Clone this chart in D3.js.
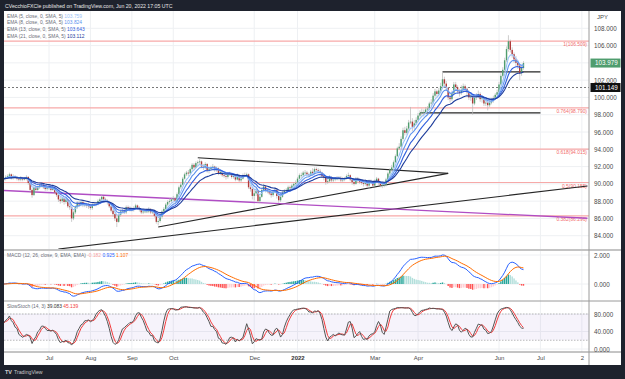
<!DOCTYPE html>
<html><head><meta charset="utf-8">
<script src="https://cdn.jsdelivr.net/npm/d3@7"></script>
<style>
html,body{margin:0;padding:0;background:#1e222d;}
svg{display:block;font-family:"Liberation Sans",Arial,sans-serif;}
</style></head><body>
<svg id="c" width="625" height="379"></svg>
<script>
// ---------------- DATA ----------------
const startDate = "2021-05-28";
const firstOpen = 90.5;
const closes = [90.6,
90.8,90.9,91.1,90.7,90.9, 90.8,90.6,90.5,90.7,90.5, 90.6,90.8,90.1,89.3,88.7, 89.6,89.3,89.6,89.8,89.9,
89.6,89.4,89.5,89.6,89.3, 89.6,89.0,88.7,88.2,88.0, 88.3,87.9,88.2,87.4,87.3, 86.0,86.7,87.3,87.8,87.6,
87.9,87.6,87.6,87.5,87.4, 87.2,87.6,87.6,87.7,88.0, 88.2,88.5,88.2,88.1,87.9, 87.4,86.9,86.5,86.0,85.6,
86.4,86.8,86.9,86.7,87.3, 87.2,87.0,87.0,87.2,87.5, 87.2,87.0,86.7,86.8,86.8, 86.8,87.1,86.7,86.8,86.3,
85.6,85.7,86.2,86.8,87.1, 87.6,87.9,88.0,88.2,88.3, 88.0,88.8,89.6,89.9,90.6, 91.1,91.3,91.2,91.7,92.2,
91.9,92.4,92.5,92.6,92.0, 91.9,92.3,91.5,91.7,91.9, 92.0,91.6,91.8,91.2,91.4, 91.0,90.9,90.8,91.1,91.2,
90.8,90.9,90.5,91.0,90.4, 90.6,91.0,91.0,91.1,89.6, 89.4,88.6,88.9,89.2,88.0, 88.5,89.3,89.7,89.2,89.1,
88.9,88.7,89.1,89.3,88.6, 88.1,88.5,89.0,89.2,89.3, 89.6,89.5,89.8,90.0,90.1, 90.6,91.0,91.0,91.3,91.3,
91.1,91.0,91.4,91.2,91.7, 91.6,91.5,91.3,90.9,90.7, 90.2,90.3,90.8,90.4,90.5, 90.6,90.6,90.7,90.4,90.5,
90.6,90.9,91.0,90.5,90.2, 90.0,90.6,90.4,90.2,90.1, 90.0,90.2,89.8,90.2,90.2, 89.8,90.3,90.6,90.1,89.8,
89.9,89.9,90.5,91.2,91.6, 91.9,92.5,93.2,94.1,94.3, 95.2,96.2,95.9,96.4,97.1, 97.2,96.6,97.0,97.4,97.9,
98.2,98.3,98.3,98.6,98.7, 99.3,99.4,100.2,100.7,100.4, 100.8,101.3,102.1,101.6,101.1, 100.0,99.8,100.5,101.5,101.2,
100.7,100.5,100.9,101.3,101.0, 100.6,100.0,100.1,99.3,100.0, 100.1,100.4,99.8,99.9,99.3, 99.4,99.1,99.4,99.6,99.9,
100.3,100.6,101.5,102.5,103.2, 104.3,105.6,106.5,105.5,105.0, 104.4,104.0,103.7,102.8,103.4,
103.979];
const highs = [90.8,
91.0,91.1,91.3,91.2,91.1, 91.0,90.9,90.8,90.9,90.8, 90.8,91.0,90.9,90.2,89.5, 89.7,89.8,89.8,90.0,90.1,
90.0,89.8,89.7,89.9,89.7, 89.8,89.7,89.2,88.9,88.5, 88.5,88.4,88.4,88.3,87.7, 87.4,86.9,87.5,88.0,88.0,
88.1,88.0,87.9,87.8,87.8, 87.6,87.8,87.9,87.9,88.2, 88.4,88.7,88.6,88.4,88.2, 88.0,87.5,87.1,86.7,86.2,
86.6,87.0,87.1,87.1,87.5, 87.5,87.4,87.3,87.4,87.7, 87.6,87.4,87.1,87.0,87.0, 87.1,87.3,87.2,87.0,86.9,
86.4,85.9,86.4,87.0,87.3, 87.8,88.1,88.3,88.4,88.6, 88.5,89.0,89.8,90.1,90.8, 91.3,91.5,91.6,91.9,92.4,
92.4,92.6,92.7,92.9,92.7, 92.3,92.5,92.4,91.9,92.1, 92.3,92.1,92.0,91.9,91.6, 91.5,91.2,91.1,91.3,91.4,
91.3,91.1,91.0,91.2,91.1, 90.8,91.2,91.3,91.3,91.2, 89.9,89.6,89.4,89.5,89.3, 88.7,89.5,90.0,89.8,89.4,
89.3,89.1,89.3,89.5,89.4, 88.7,88.7,89.2,89.4,89.5, 89.8,89.8,90.0,90.2,90.4, 90.8,91.2,91.3,91.5,91.6,
91.5,91.3,91.6,91.8,91.9, 91.9,91.8,91.7,91.4,91.1, 90.8,90.6,91.0,90.9,90.7, 90.8,90.9,90.9,90.9,90.8,
90.8,91.1,91.3,91.1,90.6, 90.4,90.8,90.8,90.6,90.4, 90.3,90.5,90.4,90.5,90.5, 90.3,90.5,90.8,90.7,90.3,
90.2,90.2,90.7,91.4,91.8, 92.2,92.7,93.4,94.3,94.7, 95.5,96.5,96.6,96.7,97.4, 98.9,97.6,97.4,97.7,98.2,
98.5,98.7,98.6,98.9,99.0, 99.5,99.8,100.5,101.0,100.9, 101.1,101.7,102.9,102.4,101.9, 101.2,100.4,100.8,101.8,101.8,
101.4,101.0,101.4,101.6,101.5, 101.2,100.8,100.5,100.2,100.3, 100.5,100.8,100.6,100.2,100.0, 99.7,99.6,99.7,99.9,100.2,
100.5,100.9,101.8,102.8,103.5, 104.6,105.9,107.2,106.7,105.8, 105.2,104.8,104.3,103.9,103.7,
104.2];
const lows = [90.3,
90.4,90.6,90.7,90.5,90.5, 90.6,90.4,90.3,90.3,90.3, 90.4,90.4,89.9,89.0,88.4, 88.6,89.1,89.2,89.4,89.6,
89.4,89.2,89.2,89.3,89.1, 89.2,88.8,88.5,87.9,87.7, 87.8,87.6,87.7,87.2,87.0, 85.6,85.8,86.5,87.1,87.3,
87.4,87.3,87.3,87.2,87.1, 87.0,87.0,87.4,87.4,87.5, 87.9,88.0,88.0,87.9,87.6, 87.2,86.7,86.2,85.7,85.0,
85.5,86.2,86.6,86.5,86.5, 87.0,86.8,86.8,86.8,87.0, 87.0,86.8,86.5,86.5,86.6, 86.6,86.6,86.5,86.5,86.1,
85.4,85.2,85.5,86.0,86.6, 86.9,87.4,87.7,87.8,88.0, 87.8,87.9,88.7,89.4,89.8, 90.5,90.9,90.9,91.1,91.5,
91.6,91.8,92.1,92.2,91.8, 91.6,91.7,91.3,91.2,91.5, 91.7,91.4,91.4,91.0,91.0, 90.8,90.7,90.5,90.6,90.9,
90.6,90.6,90.3,90.4,90.2, 90.2,90.5,90.8,90.8,89.4, 89.1,88.2,88.1,88.6,87.8, 87.8,88.4,89.2,89.0,88.9,
88.7,88.4,88.5,88.9,88.3, 87.8,87.9,88.4,88.9,89.1, 89.2,89.3,89.4,89.6,89.8, 90.0,90.5,90.7,90.8,91.0,
90.9,90.8,90.9,91.0,91.1, 91.4,91.2,91.0,90.7,90.4, 89.9,90.0,90.2,90.2,90.2, 90.3,90.4,90.4,90.2,90.2,
90.3,90.5,90.8,90.3,89.9, 89.8,89.9,90.2,90.0,89.9, 89.7,89.8,89.5,89.4,90.0, 89.6,89.7,90.1,89.9,89.6,
89.5,89.6,89.7,90.4,91.0, 91.4,91.8,92.4,93.1,93.9, 94.2,95.0,95.6,95.7,96.2, 96.9,96.1,96.3,96.8,97.2,
97.7,97.9,97.8,98.1,98.3, 98.5,99.0,99.2,100.0,100.1, 100.2,100.6,101.1,101.3,100.8, 99.7,99.4,99.6,100.3,100.8,
100.4,100.1,100.3,100.6,100.7, 100.2,99.7,99.6,98.0,99.1, 99.7,99.9,99.5,99.4,99.0, 99.0,98.5,98.9,99.2,99.4,
99.7,100.0,100.4,101.3,102.3, 103.0,104.1,105.3,105.2,104.6, 104.0,103.6,103.3,102.0,102.5,
103.2];

const emaPeriods = [5, 8, 13, 21];
const emaLegendValues = ["103.759", "103.824", "103.643", "103.112"];
const macdLegendValues = ["-0.182", "0.925", "1.107"];
const stochLegendValues = ["39.083", "45.139"];
const lastPrice = 103.979;
const refPrice = 101.149;

const fibRatios = ["1", "0.764", "0.618", "0.5", "0.382"];
const fibPrices = [106.509, 98.790, 94.015, 90.155, 86.296];

const priceTicks = [84, 86, 88, 90, 92, 94, 96, 98, 100, 102, 104, 106, 108];
const macdTicks = [0, 2];
const stochTicks = [0, 40, 80];
const stochBands = [20, 80];
const tickDates = ["2021-07-01","2021-08-02","2021-09-01","2021-10-01","2021-12-01","2022-01-03","2022-03-01","2022-04-01","2022-06-01","2022-07-01","2022-08-02"];
const tickLabels = ["Jul","Aug","Sep","Oct","Dec","2022","Mar","Apr","Jun","Jul","2"];

// drawn trend lines: [date, price] pairs
const trendStart = [["2021-10-20", 93.02], ["2021-09-21", 85.01], ["2021-07-08", 82.46], ["2021-05-28", 89.23], ["2022-04-20", 102.95], ["2022-04-04", 98.22]];
const trendEnd   = [["2022-04-25", 91.22], ["2022-04-25", 91.22], ["2022-08-05", 89.75], ["2022-08-05", 86.02], ["2022-07-01", 102.95], ["2022-07-01", 98.22]];
const trendKind  = ["black", "black", "black", "purple", "black", "black"];

// ---------------- HELPERS ----------------
function wdIndex(ds) {
  const s = new Date(startDate + "T00:00:00Z"), t = new Date(ds + "T00:00:00Z");
  let n = 0; const d = new Date(s);
  while (d < t) { d.setUTCDate(d.getUTCDate() + 1); const w = d.getUTCDay(); if (w !== 0 && w !== 6) n++; }
  return n;
}
function ema(arr, n) { const k = 2 / (n + 1); const out = []; arr.forEach((v, i) => out.push(i === 0 ? v : v * k + out[i - 1] * (1 - k))); return out; }
function sma(arr, n) { return arr.map((v, i) => d3.mean(arr.slice(Math.max(0, i - n + 1), i + 1))); }

const N = closes.length;
const opens = closes.map((c, i) => i === 0 ? firstOpen : closes[i - 1]);
const emas = emaPeriods.map(p => ema(closes, p));
const e12 = ema(closes, 12), e26 = ema(closes, 26);
const macd = e12.map((v, i) => v - e26[i]);
const signal = ema(macd, 9);
const hist = macd.map((v, i) => v - signal[i]);
const rawK = closes.map((c, i) => {
  const lo = d3.min(lows.slice(Math.max(0, i - 13), i + 1)), hi = d3.max(highs.slice(Math.max(0, i - 13), i + 1));
  return hi === lo ? 50 : (c - lo) / (hi - lo) * 100;
});
const kLine = sma(rawK, 3);
const dLine = sma(kLine, 3);

// ---------------- LAYOUT ----------------
const L = 4, R = 589, AX = 621;
const mainTop = 11, mainBot = 249, macdTop = 251, macdBot = 300, stTop = 302, stBot = 351, xAxisY = 352, bottom = 365;

const x = d3.scaleLinear().domain([wdIndex("2021-07-01"), wdIndex("2022-06-01")]).range([49, 499]);
const y = d3.scaleLinear().domain([84, 108]).range([235.7, 28.3]);
const ym = d3.scaleLinear().domain([0, 2]).range([284, 255]);
const ys = d3.scaleLinear().domain([0, 80]).range([349, 314]);

const svg = d3.select("#c");
svg.append("rect").attr("width", 625).attr("height", 379).attr("fill", "#1e222d");
svg.append("rect").attr("x", L).attr("y", mainTop).attr("width", AX - L).attr("height", bottom - mainTop).attr("fill", "#ffffff");

const defs = svg.append("defs");
[["cm", mainTop, mainBot], ["cd", macdTop, macdBot], ["cs", stTop, stBot]].forEach(([id, t, b]) => {
  defs.append("clipPath").attr("id", id).append("rect").attr("x", L).attr("y", t).attr("width", R - L).attr("height", b - t);
});

// title + footer
svg.append("text").attr("x", 5).attr("y", 7.5).attr("fill", "#e6e6e6").attr("font-size", 5.2)
  .text("CVecchioFXCle published on TradingView.com, Jun 20, 2022 17:05 UTC");
svg.append("text").attr("x", 5).attr("y", 374).attr("fill", "#d0d0d0").attr("font-size", 5.5).attr("font-weight", "bold").text("TV");
svg.append("text").attr("x", 14).attr("y", 374).attr("fill", "#c8c8c8").attr("font-size", 5.2).text("TradingView");

// grid
const tickIdx = tickDates.map(wdIndex);
const grid = svg.append("g");
grid.selectAll(".vg").data(tickIdx).join("line").attr("x1", d => x(d)).attr("x2", d => x(d))
  .attr("y1", mainTop).attr("y2", xAxisY).attr("stroke", "#eef0f3").attr("stroke-width", 1);
grid.selectAll(".hg").data(priceTicks).join("line").attr("x1", L).attr("x2", R).attr("y1", d => y(d)).attr("y2", d => y(d))
  .attr("stroke", "#eef0f3");
grid.selectAll(".hm").data(macdTicks).join("line").attr("x1", L).attr("x2", R).attr("y1", d => ym(d)).attr("y2", d => ym(d)).attr("stroke", "#eef0f3");
grid.selectAll(".hs").data(stochTicks).join("line").attr("x1", L).attr("x2", R).attr("y1", d => ys(d)).attr("y2", d => ys(d)).attr("stroke", "#eef0f3");

// ---------- MAIN PANE ----------
const gm = svg.append("g").attr("clip-path", "url(#cm)");
gm.selectAll(".fib").data(fibPrices).join("line").attr("x1", L).attr("x2", R)
  .attr("y1", d => y(d)).attr("y2", d => y(d)).attr("stroke", "#f7a9a8").attr("stroke-width", 1.2);
gm.selectAll(".fibt").data(fibPrices).join("text").attr("x", R - 2).attr("y", d => y(d) + 5)
  .attr("text-anchor", "end").attr("font-size", 4.9).attr("fill", "#f26d6d").text((d, i) => `${fibRatios[i]}(${d.toFixed(3)})`);
gm.append("line").attr("x1", L).attr("x2", R).attr("y1", y(refPrice)).attr("y2", y(refPrice))
  .attr("stroke", "#555").attr("stroke-dasharray", "2,2").attr("stroke-width", 0.8);
trendStart.forEach((s, i) => {
  const e = trendEnd[i];
  gm.append("line").attr("x1", x(wdIndex(s[0]))).attr("y1", y(s[1])).attr("x2", x(wdIndex(e[0]))).attr("y2", y(e[1]))
    .attr("stroke", trendKind[i] === "purple" ? "#b04dc4" : "#262626").attr("stroke-width", trendKind[i] === "purple" ? 1.3 : 1.2);
});
const cg = gm.append("g");
cg.selectAll(".wk").data(d3.range(N)).join("line").attr("x1", i => x(i)).attr("x2", i => x(i))
  .attr("y1", i => y(highs[i])).attr("y2", i => y(lows[i])).attr("stroke", "#b8b8b8").attr("stroke-width", 0.7);
cg.selectAll(".bd").data(d3.range(N)).join("rect").attr("x", i => x(i) - 0.7).attr("width", 1.4)
  .attr("y", i => y(Math.max(opens[i], closes[i])))
  .attr("height", i => Math.max(0.7, Math.abs(y(opens[i]) - y(closes[i]))))
  .attr("fill", i => closes[i] >= opens[i] ? "#4f9d6e" : "#b03a3a");
const emaColors = ["#9cc3f7", "#5d92ee", "#3160dd", "#1d3c9b"];
const lineM = d3.line().x((d, i) => x(i)).y(d => y(d));
emas.forEach((e, k) => gm.append("path").attr("d", lineM(e)).attr("fill", "none").attr("stroke", emaColors[k]).attr("stroke-width", 1.1));

emaPeriods.forEach((p, k) => {
  const tx = svg.append("text").attr("x", 7).attr("y", 17.5 + k * 6.8).attr("font-size", 4.9);
  tx.append("tspan").attr("fill", "#6a6d78").text(`EMA (${p}, close, 0, SMA, 5)  `);
  tx.append("tspan").attr("fill", emaColors[k]).text(emaLegendValues[k]);
});

// ---------- MACD ----------
const gd = svg.append("g").attr("clip-path", "url(#cd)");
gd.selectAll(".h").data(d3.range(N)).join("rect")
  .attr("x", i => x(i) - 0.7).attr("width", 1.4)
  .attr("y", i => Math.min(ym(0), ym(hist[i]))).attr("height", i => Math.abs(ym(hist[i]) - ym(0)))
  .attr("fill", i => {
    const h = hist[i], p = i > 0 ? hist[i - 1] : h;
    return h >= 0 ? (h > p ? "#26a69a" : "#b2dfdb") : (h < p ? "#ff5252" : "#ffcdd2");
  });
const lineD = d3.line().x((d, i) => x(i)).y(d => ym(d));
gd.append("path").attr("d", lineD(macd)).attr("fill", "none").attr("stroke", "#2962ff").attr("stroke-width", 1);
gd.append("path").attr("d", lineD(signal)).attr("fill", "none").attr("stroke", "#ff6d00").attr("stroke-width", 1);
{
  const tx = svg.append("text").attr("x", 7).attr("y", 257).attr("font-size", 4.9);
  tx.append("tspan").attr("fill", "#6a6d78").text("MACD (12, 26, close, 9, EMA, EMA)  ");
  tx.append("tspan").attr("fill", "#f7a1a1").text(macdLegendValues[0] + "  ");
  tx.append("tspan").attr("fill", "#2962ff").text(macdLegendValues[1] + "  ");
  tx.append("tspan").attr("fill", "#ff6d00").text(macdLegendValues[2]);
}

// ---------- STOCH ----------
const gs = svg.append("g").attr("clip-path", "url(#cs)");
gs.append("rect").attr("x", L).attr("width", R - L).attr("y", ys(stochBands[1])).attr("height", ys(stochBands[0]) - ys(stochBands[1]))
  .attr("fill", "#7e57c2").attr("fill-opacity", 0.07);
gs.selectAll(".band").data(stochBands).join("line").attr("x1", L).attr("x2", R).attr("y1", d => ys(d)).attr("y2", d => ys(d))
  .attr("stroke", "#a9a9a9").attr("stroke-dasharray", "1.5,1.5").attr("stroke-width", 0.8);
const lineS = d3.line().x((d, i) => x(i)).y(d => ys(d));
gs.append("path").attr("d", lineS(dLine)).attr("fill", "none").attr("stroke", "#f23c3c").attr("stroke-width", 1);
gs.append("path").attr("d", lineS(kLine)).attr("fill", "none").attr("stroke", "#555").attr("stroke-width", 1);
{
  const tx = svg.append("text").attr("x", 7).attr("y", 307.5).attr("font-size", 4.9);
  tx.append("tspan").attr("fill", "#6a6d78").text("SlowStoch (14, 3)  ");
  tx.append("tspan").attr("fill", "#333").text(stochLegendValues[0] + "  ");
  tx.append("tspan").attr("fill", "#f23c3c").text(stochLegendValues[1]);
}

// ---------- separators ----------
svg.append("line").attr("x1", L).attr("x2", AX).attr("y1", 250).attr("y2", 250).attr("stroke", "#c4c4c4").attr("stroke-width", 2);
svg.append("line").attr("x1", L).attr("x2", AX).attr("y1", 301).attr("y2", 301).attr("stroke", "#9a9a9a").attr("stroke-width", 1);
svg.append("line").attr("x1", L).attr("x2", AX).attr("y1", xAxisY).attr("y2", xAxisY).attr("stroke", "#8a8a8a").attr("stroke-width", 1);
svg.append("line").attr("x1", R).attr("x2", R).attr("y1", mainTop).attr("y2", bottom).attr("stroke", "#9a9a9a").attr("stroke-width", 1);

// ---------- axes ----------
function styleAxis(g, fs) {
  g.select(".domain").remove();
  g.selectAll("text").attr("fill", "#4a4a4a").attr("font-size", fs).attr("font-family", '"Liberation Sans",Arial,sans-serif');
}
[[y, priceTicks], [ym, macdTicks], [ys, stochTicks]].forEach(([sc, tv]) => {
  svg.append("g").attr("transform", `translate(${R},0)`)
    .call(d3.axisRight(sc).tickValues(tv).tickFormat(d3.format(".3f")).tickSize(0).tickPadding(5))
    .call(g => styleAxis(g, 6.3));
});
svg.append("text").attr("x", 597).attr("y", 19).attr("font-size", 6).attr("fill", "#4a4a4a").text("JPY");

svg.append("g").attr("transform", `translate(0,${xAxisY})`)
  .call(d3.axisBottom(x).tickValues(tickIdx).tickFormat((d, i) => tickLabels[i]).tickSize(0).tickPadding(3.5))
  .call(g => { styleAxis(g, 6); g.selectAll("text").filter((d, i) => tickLabels[i] === "2022").attr("font-weight", "bold").attr("fill", "#333"); });

[[lastPrice, "#4f9d6e"], [refPrice, "#111111"]].forEach(([p, c]) => {
  svg.append("rect").attr("x", R + 1.5).attr("y", y(p) - 4.5).attr("width", 30).attr("height", 9).attr("fill", c);
  svg.append("text").attr("x", R + 6).attr("y", y(p) + 2.2).attr("font-size", 6.3).attr("fill", "#fff").text(p.toFixed(3));
});
</script>
</body></html>
